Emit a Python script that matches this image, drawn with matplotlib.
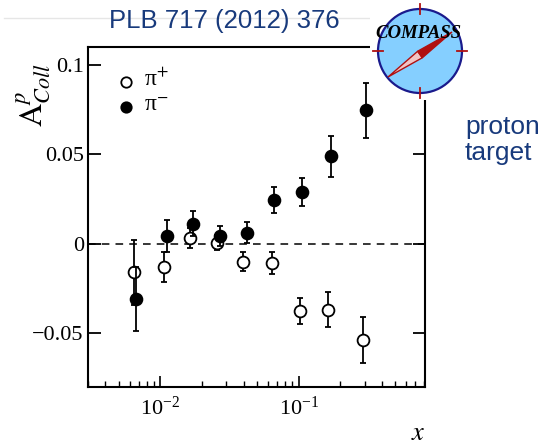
import matplotlib
matplotlib.use("Agg")
import matplotlib.pyplot as plt
import matplotlib.patches as mpatches
from matplotlib.ticker import LogLocator, NullFormatter
import numpy as np

# ---------------- data ----------------
x_pip = [0.0065, 0.0107, 0.0165, 0.0258, 0.0397, 0.0637, 0.1016, 0.164, 0.291]
y_pip = [-0.016, -0.0132, 0.0032, 0.0007, -0.0099, -0.0106, -0.0375, -0.0368, -0.0537]
e_pip = [0.018, 0.0084, 0.0055, 0.0040, 0.0052, 0.0062, 0.0074, 0.0098, 0.0127]

x_pim = [0.0067, 0.0111, 0.0173, 0.0272, 0.0422, 0.0659, 0.105, 0.1726, 0.306]
y_pim = [-0.0307, 0.0043, 0.0113, 0.0045, 0.0063, 0.0245, 0.029, 0.049, 0.0747]
e_pim = [0.018, 0.0088, 0.0068, 0.0055, 0.0060, 0.0075, 0.0080, 0.0114, 0.0153]

yticks = [-0.05, 0, 0.05, 0.1]
yticklabels = ["\u22120.05", "0", "0.05", "0.1"]
legend_labels = ["\u03c0$^{+}$", "\u03c0$^{-}$"]

navy = "#183A7C"

plt.rcParams["mathtext.fontset"] = "stix"
plt.rcParams["font.family"] = ["Liberation Serif", "DejaVu Serif"]

W, H = 556, 447
fig = plt.figure(figsize=(W / 100, H / 100), dpi=100)

L, R, T, B = 88, 425, 47, 387
ax = fig.add_axes([L / W, 1 - B / H, (R - L) / W, (B - T) / H])

ax.set_xscale("log")
ax.set_xlim(0.003, 0.82)
ax.set_ylim(-0.08, 0.11)

ax.axhline(0, color="black", lw=1.1, ls=(0, (5, 4)), zorder=1)

ax.errorbar(x_pip, y_pip, yerr=e_pip, fmt="o", ms=8.5, mfc="white", mec="black",
            mew=1.3, ecolor="black", elinewidth=1.3, capsize=2.5, capthick=1.3, zorder=3)
ax.errorbar(x_pim, y_pim, yerr=e_pim, fmt="o", ms=8.5, mfc="black", mec="black",
            mew=1.3, ecolor="black", elinewidth=1.3, capsize=2.5, capthick=1.3, zorder=4)

for s in ["left", "bottom", "right", "top"]:
    ax.spines[s].set_linewidth(1.5)

ax.set_yticks(yticks)
ax.set_yticklabels(yticklabels)
ax.tick_params(axis="y", which="major", direction="in", length=9, width=1.3,
               labelsize=16, pad=3, right=True)
ax.tick_params(axis="y", which="minor", left=False, right=False)
ax.xaxis.set_major_locator(LogLocator(base=10, numticks=10))
ax.xaxis.set_minor_locator(LogLocator(base=10, subs=np.arange(2, 10), numticks=20))
ax.xaxis.set_minor_formatter(NullFormatter())
ax.tick_params(axis="x", which="major", direction="in", length=8, width=1.2,
               labelsize=16, pad=7, top=False)
ax.tick_params(axis="x", which="minor", direction="in", length=4, width=1.0, top=False)

# y label
ax.text(-0.16, 0.86, r"$\mathrm{A}^{p}_{Coll}$", transform=ax.transAxes,
        rotation=90, ha="center", va="center", fontsize=23)
# x label
ax.text(0.98, -0.137, r"$x$", transform=ax.transAxes, ha="center", va="center",
        fontsize=19)

# legend (manual)
ax.plot([0.00567], [0.0905], "o", ms=7.5, mfc="white", mec="black", mew=1.3)
ax.plot([0.00567], [0.0765], "o", ms=7.5, mfc="black", mec="black", mew=1.3)
ax.text(0.166, 0.903, legend_labels[0], transform=ax.transAxes, ha="left",
        va="center", fontsize=17)
ax.text(0.166, 0.829, legend_labels[1], transform=ax.transAxes, ha="left",
        va="center", fontsize=17)

# faint header line
fig.add_artist(plt.Line2D([4 / W, 372 / W], [1 - 18 / H, 1 - 18 / H],
                          color="#e6e6e6", lw=1.0, zorder=0))

# title & side text
fig.text(224 / W, 1 - 21 / H, "PLB 717 (2012) 376", color=navy, fontsize=18.5,
         family="Liberation Sans", ha="center", va="center")
fig.text(465 / W, 1 - 140 / H, "proton\ntarget", color=navy, fontsize=19,
         family="Liberation Sans", ha="left", va="center", linespacing=1.1)

# COMPASS logo
lg = fig.add_axes([370 / W, 1 - 100 / H, 100 / W, 100 / H], zorder=10)
lg.set_xlim(370, 470)
lg.set_ylim(100, 0)
lg.set_facecolor("white")
for s in lg.spines.values():
    s.set_visible(False)
lg.set_xticks([])
lg.set_yticks([])
cx, cy, r = 420, 51, 42
lg.add_patch(mpatches.Circle((cx, cy), r, facecolor="#85CFFF", edgecolor="#1A1A8C", lw=1.6))
red = "#B01010"
for (x0, y0, x1, y1) in [(cx, cy - r - 5, cx, cy - r + 5), (cx, cy + r - 5, cx, cy + r + 5),
                         (cx - r - 5, cy, cx - r + 5, cy), (cx + r - 5, cy, cx + r + 5, cy)]:
    lg.plot([x0, x1], [y0, y1], color=red, lw=1.3)
tip1 = np.array([452.0, 32.0])
tip2 = np.array([388.0, 77.0])
c = np.array([420.0, 54.5])
d = (tip1 - tip2) / np.linalg.norm(tip1 - tip2)
n = np.array([-d[1], d[0]])
lg.add_patch(mpatches.Polygon([tip2, c + n * 4.0, c - n * 4.0], closed=True,
                              facecolor="#F2C4C4", edgecolor=red, lw=1.0))
lg.add_patch(mpatches.Polygon([tip1, c + n * 4.0, c - n * 4.0], closed=True,
                              facecolor=red, edgecolor=red, lw=1.0))
lg.text(418, 33, "COMPASS", ha="center", va="center", fontsize=13.5,
        fontweight="bold", fontstyle="italic", family="Liberation Serif", color="black")

fig.savefig("out.png", dpi=100)
